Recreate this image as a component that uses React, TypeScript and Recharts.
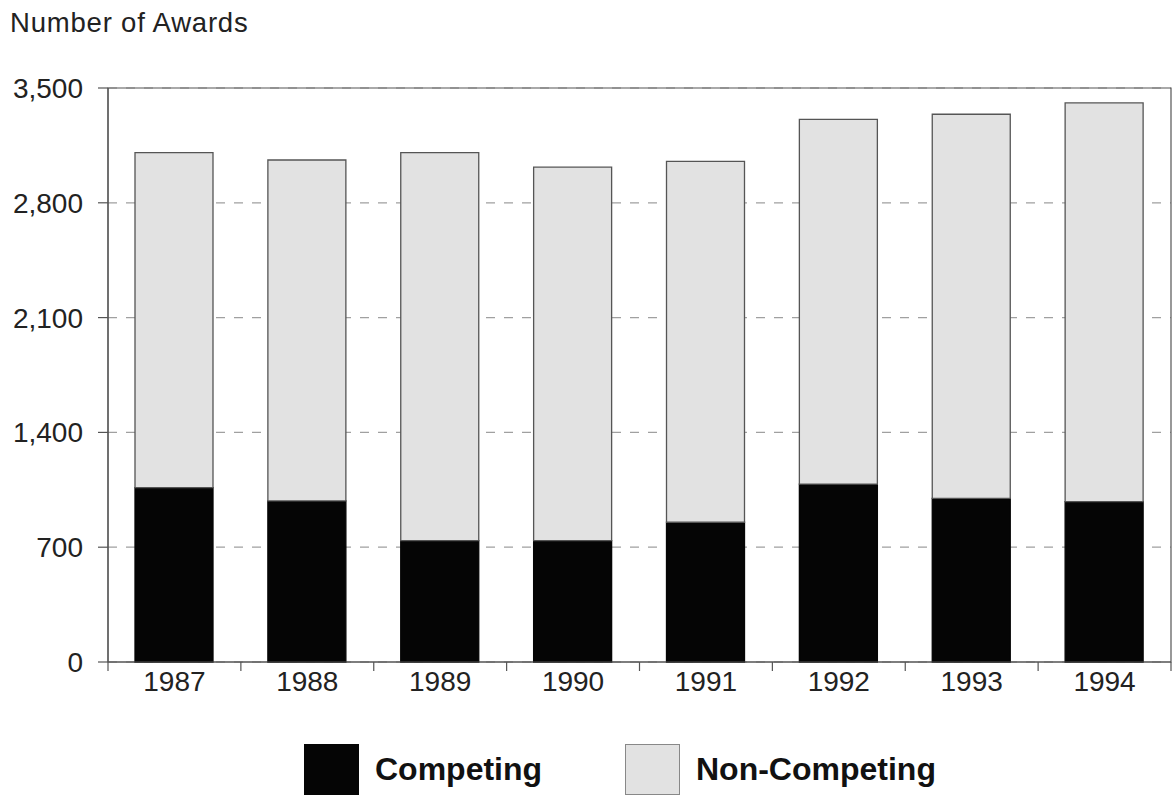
import React from 'react';
import {
  BarChart,
  Bar,
  XAxis,
  YAxis,
  CartesianGrid,
  ReferenceArea
} from 'recharts';

const years = ['1987', '1988', '1989', '1990', '1991', '1992', '1993', '1994'];
const competing = [1063, 982, 740, 740, 852, 1085, 998, 978];
const nonCompeting = [2043, 2079, 2366, 2277, 2201, 2224, 2342, 2431];
const yTicks = [0, 700, 1400, 2100, 2800, 3500];

const series = [
  { key: 'competing', name: 'Competing', fill: '#050505', stroke: '#050505' },
  { key: 'nonCompeting', name: 'Non-Competing', fill: '#e2e2e2', stroke: '#555555' }
];

const data = years.map((year, i) => ({
  year,
  competing: competing[i],
  nonCompeting: nonCompeting[i]
}));

const WIDTH = 1174;
const HEIGHT = 796;
const MARGIN = { top: 88, right: 3, left: 0, bottom: 94 };
const Y_AXIS_WIDTH = 108;
const FONT = '"Liberation Sans", Arial, sans-serif';

const plotWidth = WIDTH - MARGIN.left - MARGIN.right - Y_AXIS_WIDTH;
const band = plotWidth / years.length;

const TICK_SIZE = 6;
const TICK_MARGIN = 3;

// year label plus the small tick marks that sit on the category boundaries
function YearTick(props: any) {
  const { x, y, payload, index } = props;
  const axisY = y - TICK_SIZE - TICK_MARGIN;
  const left = x - band / 2;
  const right = x + band / 2;
  return (
    <g>
      <line x1={left} x2={left} y1={axisY} y2={axisY + 9} stroke="#555" strokeWidth={1.2} />
      {index === years.length - 1 && (
        <line x1={right} x2={right} y1={axisY} y2={axisY + 9} stroke="#555" strokeWidth={1.2} />
      )}
      <text
        x={x}
        y={y}
        dy="0.71em"
        textAnchor="middle"
        fontSize={28}
        fontFamily={FONT}
        fill="#222"
      >
        {payload.value}
      </text>
    </g>
  );
}

export default function App() {
  return (
    <div style={{ position: 'absolute', left: 0, top: 0, width: WIDTH, height: HEIGHT, background: '#fff' }}>
      <div
        style={{
          position: 'absolute',
          left: 10,
          top: 8,
          fontFamily: FONT,
          fontSize: 27.5,
          letterSpacing: 0.8,
          color: '#222',
          lineHeight: '30px'
        }}
      >
        Number of Awards
      </div>

      <BarChart width={WIDTH} height={HEIGHT} data={data} margin={MARGIN}>
        <CartesianGrid
          vertical={false}
          stroke="#a0a0a0"
          strokeDasharray="9 9"
          strokeWidth={1.2}
        />
        <XAxis
          dataKey="year"
          tickLine={false}
          tickSize={TICK_SIZE}
          tickMargin={TICK_MARGIN}
          axisLine={{ stroke: '#555', strokeWidth: 1.2 }}
          tick={<YearTick />}
          height={40}
          interval={0}
        />
        <YAxis
          width={Y_AXIS_WIDTH}
          domain={[0, 3500]}
          ticks={yTicks}
          interval={0}
          tickSize={10}
          tickMargin={15}
          tickFormatter={(v: number) => v.toLocaleString('en-US')}
          tick={{ fontSize: 28, fontFamily: FONT, fill: '#222' }}
          tickLine={{ stroke: '#555', strokeWidth: 1.2 }}
          axisLine={{ stroke: '#555', strokeWidth: 1.2 }}
        />
        <ReferenceArea y1={0} y2={3500} fill="none" stroke="#555" strokeWidth={1.2} />
        {series.map((s) => (
          <Bar
            key={s.key}
            dataKey={s.key}
            name={s.name}
            stackId="awards"
            fill={s.fill}
            stroke={s.stroke}
            strokeWidth={1.3}
            barSize={78}
            isAnimationActive={false}
          />
        ))}
      </BarChart>

      {series.map((s, i) => (
        <div
          key={s.key}
          style={{
            position: 'absolute',
            left: i === 0 ? 304 : 625,
            top: 744,
            display: 'flex',
            alignItems: 'center',
            height: 51
          }}
        >
          <div
            style={{
              width: 55,
              height: 51,
              boxSizing: 'border-box',
              background: s.fill,
              border: `1.5px solid ${i === 0 ? s.fill : '#888'}`
            }}
          />
          <span
            style={{
              marginLeft: 16,
              fontFamily: FONT,
              fontWeight: 'bold',
              fontSize: 32,
              color: '#111'
            }}
          >
            {s.name}
          </span>
        </div>
      ))}
    </div>
  );
}
